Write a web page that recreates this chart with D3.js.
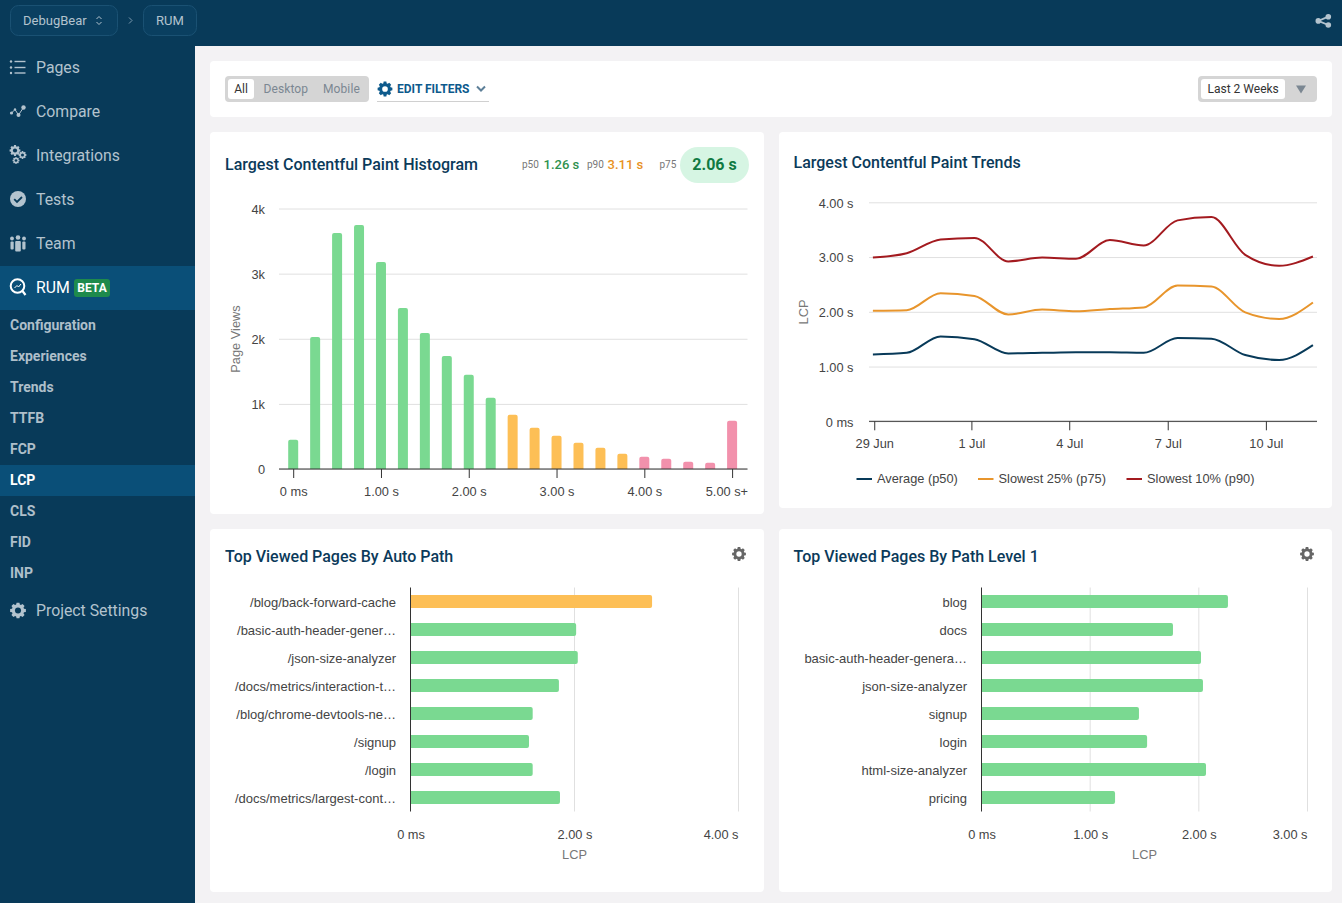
<!DOCTYPE html>
<html>
<head>
<meta charset="utf-8">
<script src="https://cdn.jsdelivr.net/npm/d3@7"></script>
<style>
  html, body { margin: 0; padding: 0; background: #f3f2f4; overflow: hidden; }
  svg { display: block; }
  text { font-family: Roboto, sans-serif; }
  .title { font-size: 16px; font-weight: 500; fill: #0b3a5a; }
  .nav { font-size: 15.8px; fill: #b3c3ce; }
  .sub { font-size: 14px; font-weight: 700; fill: #aebfca; }
  .axis text, .chart-text { font-family: 'Liberation Sans', sans-serif; font-size: 12.8px; fill: #444; }
  .pages text { font-size: 13px; }
  .axis-title { font-family: 'Liberation Sans', sans-serif; font-size: 12.8px; fill: #777; }
  .grid line { stroke: #e0e0e0; }
</style>
</head>
<body>
<div id="chart"></div>
<script>
const histBins = [0, 0.25, 0.5, 0.75, 1, 1.25, 1.5, 1.75, 2, 2.25, 2.5, 2.75, 3, 3.25, 3.5, 3.75, 4, 4.25, 4.5, 4.75, 5];
const histViews = [450, 2028, 3622, 3745, 3178, 2473, 2090, 1737, 1446, 1093, 833, 633, 511, 404, 327, 235, 189, 158, 112, 97, 741];
const histTicks = [0, 1, 2, 3, 4, 5];
const histTickLabels = ['0 ms', '1.00 s', '2.00 s', '3.00 s', '4.00 s', '5.00 s+'];
const histCountTicks = [0, 1000, 2000, 3000, 4000];

const trendDays = d3.range(14);
const trendP50 = [1.22, 1.25, 1.55, 1.50, 1.24, 1.25, 1.26, 1.26, 1.25, 1.52, 1.51, 1.21, 1.12, 1.39];
const trendP75 = [2.02, 2.03, 2.34, 2.29, 1.95, 2.04, 2.01, 2.05, 2.08, 2.48, 2.46, 1.99, 1.87, 2.17];
const trendP90 = [2.99, 3.07, 3.32, 3.35, 2.92, 2.99, 2.97, 3.31, 3.21, 3.67, 3.73, 3.04, 2.84, 3.01];
const trendTickDays = [0.04, 2.91, 5.8, 8.71, 11.61];
const trendTickLabels = ['29 Jun', '1 Jul', '4 Jul', '7 Jul', '10 Jul'];
const trendValueTicks = [0, 1, 2, 3, 4];

const autoPaths = ['/blog/back-forward-cache', '/basic-auth-header-gener…', '/json-size-analyzer', '/docs/metrics/interaction-t…', '/blog/chrome-devtools-ne…', '/signup', '/login', '/docs/metrics/largest-cont…'];
const autoPathLcp = [2.946, 2.02, 2.04, 1.81, 1.49, 1.445, 1.49, 1.823];
const levelPaths = ['blog', 'docs', 'basic-auth-header-genera…', 'json-size-analyzer', 'signup', 'login', 'html-size-analyzer', 'pricing'];
const levelPathLcp = [2.268, 1.762, 2.02, 2.038, 1.449, 1.524, 2.066, 1.229];

const navItems = ['Pages', 'Compare', 'Integrations', 'Tests', 'Team'];
const subItems = ['Configuration', 'Experiences', 'Trends', 'TTFB', 'FCP', 'LCP', 'CLS', 'FID', 'INP'];

const GREEN = '#7ad991', ORANGE = '#fdbf56', PINK = '#f291ac';
const NAVY = '#083a59', ACTIVE = '#0a4f78', MUTED = '#b3c3ce';

const svg = d3.select('#chart').append('svg').attr('width', 1342).attr('height', 903);
svg.append('rect').attr('width', 1342).attr('height', 903).attr('fill', '#f3f2f4');

// little helpers for the chrome around the charts
function gear(parent, cx, cy, r, color, hole) {
  const pts = [];
  d3.range(8).forEach(i => {
    const a = i * Math.PI / 4;
    [[-0.3, 1], [-0.18, 1.28], [0.18, 1.28], [0.3, 1]].forEach(([da, k]) => {
      pts.push([cx + Math.cos(a + da) * r * k / 1.28, cy + Math.sin(a + da) * r * k / 1.28]);
    });
  });
  parent.append('path').attr('d', d3.line()(pts) + 'Z').attr('fill', color);
  parent.append('circle').attr('cx', cx).attr('cy', cy).attr('r', r * 0.38).attr('fill', hole);
}

function panel(x, y, w, h) {
  svg.append('rect').attr('x', x).attr('y', y).attr('width', w).attr('height', h).attr('rx', 4).attr('fill', '#fff');
}

function label(parent, x, y, txt, cls, attrs) {
  const t = parent.append('text').attr('x', x).attr('y', y).attr('dy', '.35em').attr('class', cls || null).text(txt);
  Object.entries(attrs || {}).forEach(([k, v]) => t.attr(k, v));
  return t;
}

// bar with its free end rounded, dir is 'up' or 'right'
function roundedBar(x, y, w, h, r, dir) {
  const p = d3.path();
  if (dir === 'up') {
    p.moveTo(x, y + h);
    p.lineTo(x, y + r);
    p.arcTo(x, y, x + r, y, r);
    p.lineTo(x + w - r, y);
    p.arcTo(x + w, y, x + w, y + r, r);
    p.lineTo(x + w, y + h);
  } else {
    p.moveTo(x, y);
    p.lineTo(x + w - r, y);
    p.arcTo(x + w, y, x + w, y + r, r);
    p.lineTo(x + w, y + h - r);
    p.arcTo(x + w, y + h, x + w - r, y + h, r);
    p.lineTo(x, y + h);
  }
  p.closePath();
  return p.toString();
}

// header and sidebar
svg.append('rect').attr('width', 1342).attr('height', 46).attr('fill', NAVY);
svg.append('rect').attr('y', 46).attr('width', 195).attr('height', 857).attr('fill', NAVY);
svg.append('rect').attr('x', 10.5).attr('y', 5.5).attr('width', 107).attr('height', 30).attr('rx', 8)
  .attr('fill', '#0a3f60').attr('stroke', '#1a5173');
svg.append('rect').attr('x', 143.5).attr('y', 5.5).attr('width', 53).attr('height', 30).attr('rx', 8)
  .attr('fill', '#0a3f60').attr('stroke', '#1a5173');
label(svg, 23, 20.5, 'DebugBear', null, {'font-size': 13, fill: MUTED});
label(svg, 156, 20.5, 'RUM', null, {'font-size': 13, fill: MUTED});
svg.append('path').attr('d', 'M96.5 19l2.5-2.5 2.5 2.5M96.5 22l2.5 2.5 2.5-2.5').attr('fill', 'none').attr('stroke', MUTED);
svg.append('path').attr('d', 'M129 17.5l3 3-3 3').attr('fill', 'none').attr('stroke', '#7d9bb0');

const share = svg.append('g').attr('fill', MUTED).attr('stroke', MUTED);
share.append('path').attr('d', 'M1328.3 16.7L1318.3 20.9L1328.3 25').attr('fill', 'none').attr('stroke-width', 1.8);
[[1328.3, 16.7], [1318.3, 20.9], [1328.3, 25]].forEach(([cx, cy]) => {
  share.append('circle').attr('cx', cx).attr('cy', cy).attr('r', 2.8).attr('stroke', 'none');
});

svg.append('rect').attr('y', 266).attr('width', 195).attr('height', 44).attr('fill', ACTIVE);
svg.append('rect').attr('y', 465).attr('width', 195).attr('height', 31).attr('fill', ACTIVE);

navItems.forEach((d, i) => label(svg, 36, 67.5 + i * 44, d, 'nav'));
label(svg, 36, 287.5, 'RUM', 'nav').style('fill', '#fff');
svg.append('rect').attr('x', 74).attr('y', 279).attr('width', 36).attr('height', 18).attr('rx', 3).attr('fill', '#1e8a4c');
label(svg, 92, 288, 'BETA', null, {'font-size': 12, 'font-weight': 700, fill: '#fff', 'text-anchor': 'middle'});
subItems.forEach((d, i) => {
  label(svg, 10, 325.5 + i * 31, d, 'sub').style('fill', d === 'LCP' ? '#fff' : null);
});
label(svg, 36, 610.5, 'Project Settings', 'nav');

// sidebar icons
[61.5, 67.5, 73].forEach(y => {
  svg.append('circle').attr('cx', 11).attr('cy', y).attr('r', 1.2).attr('fill', MUTED);
  svg.append('line').attr('x1', 14.5).attr('x2', 25.5).attr('y1', y).attr('y2', y).attr('stroke', MUTED).attr('stroke-width', 1.4);
});
svg.append('path').attr('d', 'M11.5 113L15 109.5L18.5 115L23.5 107.5').attr('fill', 'none').attr('stroke', MUTED);
[[11.5, 113, 1.6], [15, 109.5, 1.2], [18.5, 115, 2], [23.5, 107.5, 2.2]].forEach(([cx, cy, r]) => {
  svg.append('circle').attr('cx', cx).attr('cy', cy).attr('r', r).attr('fill', MUTED);
});
gear(svg, 15, 150.5, 5.5, MUTED, NAVY);
gear(svg, 22.5, 155, 4, MUTED, NAVY);
gear(svg, 16, 160.5, 3.5, MUTED, NAVY);
svg.append('circle').attr('cx', 18).attr('cy', 199).attr('r', 8).attr('fill', MUTED);
svg.append('path').attr('d', 'M14.2 199.2l2.8 2.8l5-5').attr('fill', 'none').attr('stroke', NAVY).attr('stroke-width', 1.8);
[[12, 238.5, 1.9], [18, 237.5, 2.3], [24, 238.5, 1.9]].forEach(([cx, cy, r]) => {
  svg.append('circle').attr('cx', cx).attr('cy', cy).attr('r', r).attr('fill', MUTED);
});
[[10.5, 241.5, 3.2, 8], [15.2, 241, 5.6, 10.5], [22.3, 241.5, 3.2, 8]].forEach(([x, y, w, h]) => {
  svg.append('rect').attr('x', x).attr('y', y).attr('width', w).attr('height', h).attr('rx', 1).attr('fill', MUTED);
});
svg.append('circle').attr('cx', 17.5).attr('cy', 286).attr('r', 6.8).attr('fill', 'none').attr('stroke', '#fff').attr('stroke-width', 2);
svg.append('path').attr('d', 'M22.5 291L25.5 295').attr('stroke', '#fff').attr('stroke-width', 2.2);
svg.append('path').attr('d', 'M14.5 288L17 285.5L18.5 287L21 284').attr('fill', 'none').attr('stroke', '#fff');
gear(svg, 18, 610.5, 8, MUTED, NAVY);

// filter bar
panel(210, 61, 1122, 56);
svg.append('rect').attr('x', 225).attr('y', 76).attr('width', 144).attr('height', 26).attr('rx', 4).attr('fill', '#d5d5d5');
svg.append('rect').attr('x', 228).attr('y', 79).attr('width', 26).attr('height', 20).attr('rx', 3).attr('fill', '#fff');
label(svg, 241, 89, 'All', null, {'font-size': 12, 'font-weight': 400, fill: '#333', 'text-anchor': 'middle'});
label(svg, 263.5, 89, 'Desktop', null, {'font-size': 12, fill: '#7b8792', 'letter-spacing': 0.1});
label(svg, 323, 89, 'Mobile', null, {'font-size': 12, fill: '#7b8792', 'letter-spacing': 0.1});
gear(svg, 385, 89, 7.5, '#0d5a8c', '#fff');
label(svg, 397, 89, 'EDIT FILTERS', null, {'font-size': 12, 'font-weight': 700, fill: '#0d5a8c'});
svg.append('path').attr('d', 'M477 86.5l4 4l4-4').attr('fill', 'none').attr('stroke', '#5d7f98').attr('stroke-width', 2);
svg.append('line').attr('x1', 377).attr('x2', 489).attr('y1', 101.5).attr('y2', 101.5).attr('stroke', '#d0d0d0');
svg.append('rect').attr('x', 1198).attr('y', 76).attr('width', 119).attr('height', 26).attr('rx', 4).attr('fill', '#d5d5d5');
svg.append('rect').attr('x', 1201).attr('y', 79).attr('width', 84).attr('height', 20).attr('rx', 3).attr('fill', '#fff');
label(svg, 1207.5, 89, 'Last 2 Weeks', null, {'font-size': 12, fill: '#333'});
svg.append('path').attr('d', 'M1296 85.5h10l-5 8z').attr('fill', '#7b8792');

// panels
panel(210, 132, 554, 382);
panel(779, 132, 553, 376);
panel(210, 529, 554, 363);
panel(779, 529, 553, 363);

// Histogram
label(svg, 225, 164.5, 'Largest Contentful Paint Histogram', 'title');
label(svg, 522, 164.5, 'p50', null, {'font-size': 10, fill: '#777'});
label(svg, 543.5, 164.5, '1.26 s', null, {'font-size': 13, 'font-weight': 500, fill: '#2f9150'});
label(svg, 587, 164.5, 'p90', null, {'font-size': 10, fill: '#777'});
label(svg, 607.5, 164.5, '3.11 s', null, {'font-size': 13, 'font-weight': 500, fill: '#e8921e'});
label(svg, 659.5, 164.5, 'p75', null, {'font-size': 10, fill: '#777'});
svg.append('rect').attr('x', 680).attr('y', 147).attr('width', 69).attr('height', 36).attr('rx', 18).attr('fill', '#d6f5e3');
label(svg, 714.5, 164.5, '2.06 s', null, {'font-size': 16, 'font-weight': 700, fill: '#0f7a42', 'text-anchor': 'middle'});

function drawHistogram() {
  const dim = {w: 468.5, h: 260.5};
  const g = svg.append('g').attr('transform', 'translate(279, 208.5)');
  const x = d3.scaleLinear().domain([0, 5]).range([14.2, 453.1]);
  const y = d3.scaleLinear().domain([0, 4000]).range([dim.h, 0]);
  const color = v => v < 2.5 ? GREEN : v < 4 ? ORANGE : PINK;

  g.append('g').attr('class', 'axis grid')
    .call(d3.axisLeft(y).tickValues(histCountTicks).tickSize(-dim.w).tickPadding(14)
      .tickFormat(d => d === 0 ? '0' : (d / 1000) + 'k'))
    .call(a => a.select('.domain').remove())
    .call(a => a.selectAll('text').attr('dy', '.38em'));

  g.selectAll('.bar')
    .data(histViews)
    .enter()
    .append('path')
    .attr('class', 'bar')
    .attr('fill', (d, i) => color(histBins[i]))
    .attr('d', (d, i) => roundedBar(x(histBins[i]) - 5, y(d), 10, dim.h - y(d), 2, 'up'));

  g.append('g').attr('class', 'axis')
    .attr('transform', `translate(0, ${dim.h})`)
    .call(d3.axisBottom(x).tickValues(histTicks).tickSize(9).tickPadding(9)
      .tickFormat((d, i) => histTickLabels[i]))
    .call(a => a.select('.domain').remove())
    .call(a => a.selectAll('line').attr('stroke', '#333'))
    .call(a => a.select('.tick:last-of-type text').attr('text-anchor', 'end').attr('dx', 15.5));
  g.append('line').attr('x2', dim.w).attr('y1', dim.h).attr('y2', dim.h).attr('stroke', '#333');

  g.append('text').attr('class', 'axis-title').attr('text-anchor', 'middle')
    .attr('transform', 'translate(-43, 130.5) rotate(-90)').attr('dy', '.35em').text('Page Views');
}

// Trends
label(svg, 793.5, 162.5, 'Largest Contentful Paint Trends', 'title');

function drawTrends() {
  const dim = {w: 448, h: 219};
  const g = svg.append('g').attr('transform', 'translate(869, 202.3)');
  const x = d3.scaleLinear().domain([-0.115, 13.12]).range([0, dim.w]);
  const y = d3.scaleLinear().domain([0, 4]).range([dim.h, 0]);

  g.append('g').attr('class', 'axis grid')
    .call(d3.axisLeft(y).tickValues(trendValueTicks).tickSize(-dim.w).tickPadding(15.5)
      .tickFormat(d => d === 0 ? '0 ms' : d.toFixed(2) + ' s'))
    .call(a => a.select('.domain').remove())
    .call(a => a.selectAll('text').attr('dy', '.38em'));

  g.append('g').attr('class', 'axis')
    .attr('transform', `translate(0, ${dim.h})`)
    .call(d3.axisBottom(x).tickValues(trendTickDays).tickSize(9).tickPadding(9)
      .tickFormat((d, i) => trendTickLabels[i]))
    .call(a => a.select('.domain').remove())
    .call(a => a.selectAll('line').attr('stroke', '#333'));
  g.append('line').attr('x2', dim.w).attr('y1', dim.h).attr('y2', dim.h).attr('stroke', '#333');

  const line = d3.line().x((d, i) => x(trendDays[i])).y(d => y(d)).curve(d3.curveMonotoneX);
  const series = [
    {name: 'Average (p50)', values: trendP50, color: NAVY, lx: 856.5},
    {name: 'Slowest 25% (p75)', values: trendP75, color: '#e8952c', lx: 978},
    {name: 'Slowest 10% (p90)', values: trendP90, color: '#a31a1f', lx: 1126.5}
  ];
  series.forEach(s => {
    g.append('path').attr('d', line(s.values)).attr('fill', 'none').attr('stroke', s.color).attr('stroke-width', 2);
    svg.append('line').attr('x1', s.lx).attr('x2', s.lx + 15.5).attr('y1', 479).attr('y2', 479)
      .attr('stroke', s.color).attr('stroke-width', 2);
    label(svg, s.lx + 20.5, 479, s.name, 'chart-text');
  });

  svg.append('text').attr('class', 'axis-title').attr('text-anchor', 'middle')
    .attr('transform', 'translate(804, 312) rotate(-90)').attr('dy', '.35em').text('LCP');
}

// Top viewed pages
function drawPages(opts) {
  const {left, top, w, h, names, values, max, ticks, title, titleX, gearX, labelFor} = opts;
  label(svg, titleX, 556.5, title, 'title');
  gear(svg, gearX, 554, 7, '#666', '#fff');

  const g = svg.append('g').attr('transform', `translate(${left}, ${top})`);
  const x = d3.scaleLinear().domain([0, max]).range([0, w]);
  const y = d3.scaleBand().domain(names).range([0, h]).paddingInner(0.536).paddingOuter(0.268);

  g.append('g').attr('class', 'grid')
    .selectAll('line')
    .data(ticks.filter(d => d > 0))
    .enter()
    .append('line')
    .attr('x1', d => x(d)).attr('x2', d => x(d)).attr('y1', 0).attr('y2', h);

  g.selectAll('.bar')
    .data(values)
    .enter()
    .append('path')
    .attr('class', 'bar')
    .attr('fill', d => d >= 2.5 ? ORANGE : GREEN)
    .attr('d', (d, i) => roundedBar(0, y(names[i]), x(d), y.bandwidth(), 2, 'right'));

  g.append('g').attr('class', 'axis pages')
    .call(d3.axisLeft(y).tickSize(0).tickPadding(14.5))
    .call(a => a.select('.domain').remove())
    .call(a => a.selectAll('text').attr('dy', '.42em'));
  g.append('line').attr('y2', h).attr('stroke', '#333');

  g.append('g').attr('class', 'axis')
    .attr('transform', `translate(0, ${h})`)
    .call(d3.axisBottom(x).tickValues(ticks).tickSize(0).tickPadding(18.5).tickFormat(labelFor))
    .call(a => a.select('.domain').remove())
    .call(a => a.select('.tick:last-of-type text').attr('text-anchor', 'end').attr('dx', -0.5));

  svg.append('text').attr('class', 'axis-title').attr('text-anchor', 'middle')
    .attr('x', opts.lcpX).attr('y', 854.5).attr('dy', '.35em').text('LCP');
}

const msOrSeconds = d => d === 0 ? '0 ms' : d.toFixed(2) + ' s';

drawHistogram();
drawTrends();
drawPages({
  left: 410.5, top: 587.5, w: 328, h: 224, names: autoPaths, values: autoPathLcp, max: 4,
  ticks: [0, 2, 4], labelFor: msOrSeconds, title: 'Top Viewed Pages By Auto Path',
  titleX: 225, gearX: 739, lcpX: 574.5
});
drawPages({
  left: 981.5, top: 587.5, w: 326, h: 224, names: levelPaths, values: levelPathLcp, max: 3,
  ticks: [0, 1, 2, 3], labelFor: msOrSeconds, title: 'Top Viewed Pages By Path Level 1',
  titleX: 793.5, gearX: 1307, lcpX: 1144.5
});
</script>
</body>
</html>
